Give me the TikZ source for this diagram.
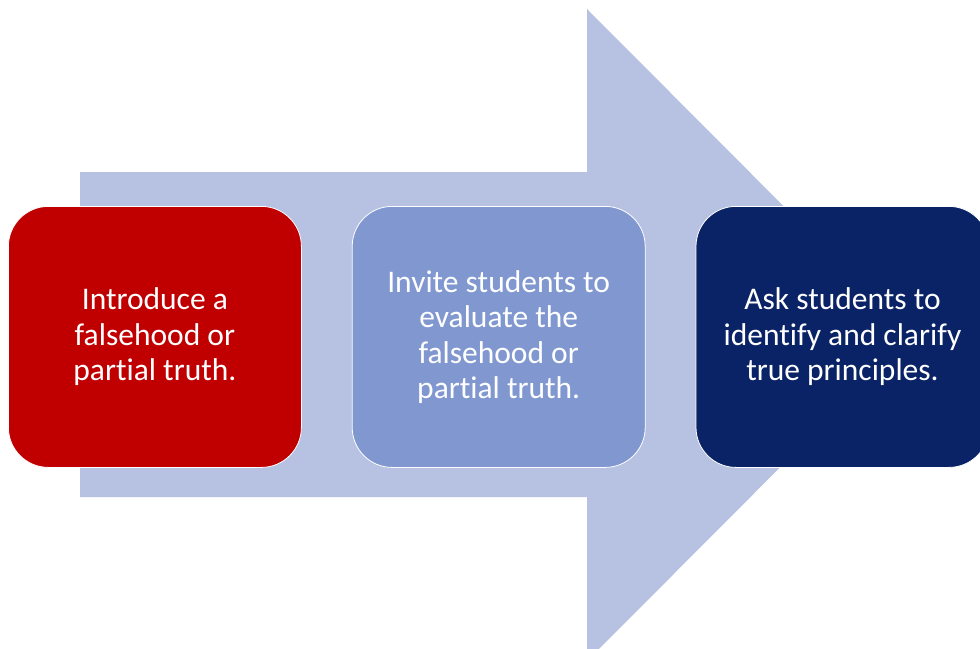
\documentclass[tikz,border=0pt]{standalone}
\usepackage{fontspec}
\setmainfont[Ligatures=NoCommon]{Carlito}
\usetikzlibrary{positioning}

\definecolor{arrowblue}{HTML}{B7C2E3}
\definecolor{stepred}{HTML}{C00000}
\definecolor{stepmid}{HTML}{8097D0}
\definecolor{stepdark}{HTML}{0A2366}

\begin{document}
\begin{tikzpicture}[x=1pt,y=-1pt,node distance=50pt,
  stepbox/.style={rounded corners=40pt,draw=white,line width=0.8pt,
    minimum width=293pt,minimum height=261pt,inner sep=0pt,
    align=center,text=white,font=\fontsize{31.5}{35.5}\selectfont}]

\useasboundingbox (0,0) rectangle (980,648);

% big arrow behind the boxes
\fill[arrowblue] (80,172) -- (587,172) -- (587,9) -- (912,335)
  -- (587,661) -- (587,497) -- (80,497) -- cycle;

\node [stepbox, fill=stepred, anchor=north west] (s1) at (8,206)
  {Introduce a\\falsehood or\\partial truth.};
\node [stepbox, fill=stepmid, right=50pt of s1] (s2)
  {Invite students to\\evaluate the\\falsehood or\\partial truth.};
\node [stepbox, fill=stepdark, right=50pt of s2] (s3)
  {Ask students to\\identify and clarify\\true principles.};

\end{tikzpicture}
\end{document}
